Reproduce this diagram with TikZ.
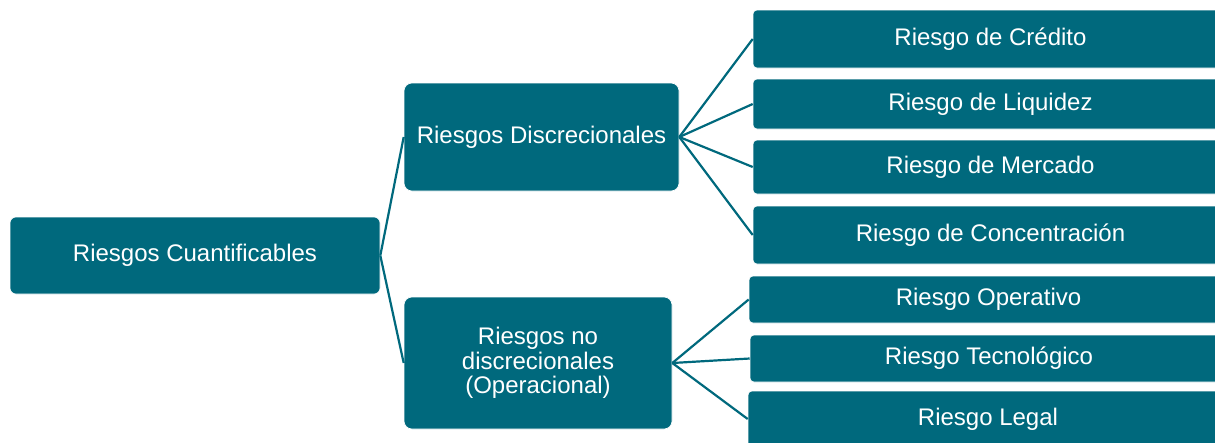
\documentclass[tikz,border=0pt]{standalone}
\usepackage{fontspec}
\setmainfont{Liberation Sans}
\definecolor{teal}{RGB}{0,105,125}
\begin{document}
\begin{tikzpicture}[x=1pt,y=-1pt,
  box/.style={fill=teal,draw=white,line width=0.6pt,text=white,inner sep=0pt,align=center,
    font=\fontsize{24}{24.5}\selectfont},
  bigbox/.style={box,rounded corners=8pt},
  leafbox/.style={box,rounded corners=4pt},
  link/.style={draw=teal,line width=2.2pt}]
\useasboundingbox (0,0) rectangle (1215,442);
\clip (0,0) rectangle (1215,442);
\fill[white] (0,0) rectangle (1215,442);
\node[bigbox,rounded corners=6pt,minimum width=370pt,minimum height=77pt] (root) at (195,255.5) {Riesgos Cuantificables};
\node[bigbox,minimum width=275pt,minimum height=108pt] (disc) at (541.5,137) {Riesgos Discrecionales};
\node[bigbox,minimum width=268pt,minimum height=132pt] (op) at (538,363) {Riesgos no\\discrecionales\\(Operacional)};
\node[leafbox,minimum width=475pt,minimum height=58pt] (cred) at (990.5,39) {Riesgo de Crédito};
\node[leafbox,minimum width=475pt,minimum height=50pt] (liq) at (990.5,104) {Riesgo de Liquidez};
\node[leafbox,minimum width=475pt,minimum height=54pt] (merc) at (990.5,167) {Riesgo de Mercado};
\node[leafbox,minimum width=475pt,minimum height=58pt] (conc) at (990.5,235) {Riesgo de Concentración};
\node[leafbox,minimum width=479pt,minimum height=47pt] (oper) at (988.5,299.5) {Riesgo Operativo};
\node[leafbox,minimum width=478pt,minimum height=47pt] (tec) at (989,358.5) {Riesgo Tecnológico};
\node[leafbox,minimum width=480pt,minimum height=56pt] (leg) at (988,419) {Riesgo Legal};
\draw[link] (root.east) -- (disc.west);
\draw[link] (root.east) -- (op.west);
\foreach \t in {cred,liq,merc,conc} \draw[link] (disc.east) -- (\t.west);
\foreach \t in {oper,tec,leg} \draw[link] (op.east) -- (\t.west);
\end{tikzpicture}
\end{document}
